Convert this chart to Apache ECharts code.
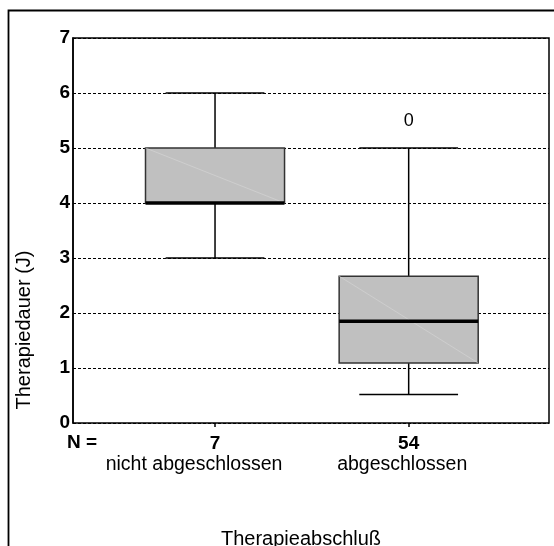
<!DOCTYPE html>
<html>
<head>
<meta charset="utf-8">
<script src="https://cdn.jsdelivr.net/npm/echarts@6/dist/echarts.min.js"></script>
<style>
html,body{margin:0;padding:0;background:#fff;}
#chart{width:554px;height:546px;}
</style>
</head>
<body>
<div id="chart"></div>
<script>
// ---- data ----
var categories = ['nicht abgeschlossen', 'abgeschlossen'];
var nValues = [7, 54];
// [lower whisker, Q1, median, Q3, upper whisker]
var boxStats = [
  [3, 4, 4, 5, 6],
  [0.52, 1.09, 1.85, 2.67, 5]
];
// [category index, value]
var outliers = [[1, 5.5]];
var outlierMarks = ['0'];
var yMin = 0, yMax = 7, yStep = 1;
var yTitle = 'Therapiedauer (J)';
var xTitle = 'Therapieabschluß';
var nLabel = 'N =';

var FONT = '"Liberation Sans", Arial, sans-serif';

var boxSeriesData = boxStats.map(function (s, i) { return [i].concat(s); });

var chart = echarts.init(document.getElementById('chart'), null, {renderer: 'canvas'});

var option = {
  animation: false,
  backgroundColor: '#fff',
  grid: [
    {left: 73, right: 5, top: 38, bottom: 123, show: true, borderColor: '#000', borderWidth: 1.5, backgroundColor: 'transparent'},
    {left: 118.2, right: 48.5, top: 38, bottom: 123}
  ],
  xAxis: [
    {gridIndex: 0, type: 'value', min: 0, max: 1, show: false},
    {
      gridIndex: 1, type: 'category', data: categories, boundaryGap: true,
      axisLine: {show: false},
      axisTick: {show: true, alignWithLabel: true, length: 4, lineStyle: {color: '#000', width: 1.5}},
      splitLine: {show: false},
      axisLabel: {
        margin: 10,
        interval: 0,
        formatter: function (v, i) {
          return '{n|' + nValues[i] + '}\n{c' + i + '|' + v + '}';
        },
        rich: {
          n: {fontFamily: FONT, fontSize: 19, fontWeight: 'bold', color: '#000', lineHeight: 21},
          c0: {fontFamily: FONT, fontSize: 19.5, color: '#000', lineHeight: 21, padding: [0, 42, 0, 0]},
          c1: {fontFamily: FONT, fontSize: 19.5, color: '#000', lineHeight: 21, padding: [0, 13, 0, 0]}
        }
      }
    }
  ],
  yAxis: [
    {
      gridIndex: 0, type: 'value', min: yMin, max: yMax, interval: yStep,
      axisLine: {show: true, lineStyle: {color: '#000', width: 1.5}},
      axisTick: {show: false},
      axisLabel: {margin: 3, fontFamily: FONT, fontSize: 19, fontWeight: 'bold', color: '#000'},
      splitLine: {show: true, lineStyle: {color: '#000', width: 1.2, type: [3, 2]}}
    },
    {gridIndex: 1, type: 'value', min: yMin, max: yMax, interval: yStep, show: false, splitLine: {show: false}}
  ],
  graphic: [
    {type: 'rect', shape: {x: 8.5, y: 10.5, width: 700, height: 700}, style: {fill: 'none', stroke: '#000', lineWidth: 1.8}, silent: true, z: 100},
    {type: 'text', x: 24, y: 330, rotation: Math.PI / 2, style: {text: yTitle, fontFamily: FONT, fontSize: 20, fill: '#000', align: 'center', verticalAlign: 'middle'}},
    {type: 'text', x: 67, y: 443, style: {text: nLabel, fontFamily: FONT, fontSize: 19, fontWeight: 'bold', fill: '#000', align: 'left', verticalAlign: 'middle'}},
    {type: 'text', x: 301, y: 539.5, style: {text: xTitle, fontFamily: FONT, fontSize: 20, fill: '#000', align: 'center', verticalAlign: 'middle'}}
  ],
  series: [
    {
      type: 'custom',
      xAxisIndex: 1, yAxisIndex: 1,
      data: boxSeriesData,
      encode: {x: 0, y: [1, 2, 3, 4, 5]},
      renderItem: function (params, api) {
        var idx = api.value(0);
        var lo = api.coord([idx, api.value(1)]);
        var q1 = api.coord([idx, api.value(2)]);
        var med = api.coord([idx, api.value(3)]);
        var q3 = api.coord([idx, api.value(4)]);
        var hi = api.coord([idx, api.value(5)]);
        var band = api.size([1, 0])[0];
        var bw = band * 0.718;
        var cw = band * 0.51;
        var cx = lo[0];
        var lineS = {stroke: '#000', lineWidth: 1.5};
        return {
          type: 'group',
          children: [
            {type: 'line', shape: {x1: cx, y1: q3[1], x2: cx, y2: hi[1]}, style: lineS},
            {type: 'line', shape: {x1: cx, y1: q1[1], x2: cx, y2: lo[1]}, style: lineS},
            {type: 'line', shape: {x1: cx - cw / 2, y1: hi[1], x2: cx + cw / 2, y2: hi[1]}, style: lineS},
            {type: 'line', shape: {x1: cx - cw / 2, y1: lo[1], x2: cx + cw / 2, y2: lo[1]}, style: lineS},
            {type: 'rect', shape: {x: cx - bw / 2, y: q3[1], width: bw, height: q1[1] - q3[1]}, style: {fill: '#c0c0c0', stroke: '#333', lineWidth: 1.5}},
            {type: 'line', shape: {x1: cx - bw / 2, y1: q3[1], x2: cx + bw / 2, y2: q1[1]}, style: {stroke: '#d6d6d6', lineWidth: 0.6}},
            {type: 'line', shape: {x1: cx - bw / 2, y1: med[1], x2: cx + bw / 2, y2: med[1]}, style: {stroke: '#000', lineWidth: 3.5}}
          ]
        };
      },
      z: 5
    },
    {
      type: 'custom',
      xAxisIndex: 1, yAxisIndex: 1,
      data: outliers,
      encode: {x: 0, y: 1},
      renderItem: function (params, api) {
        var p = api.coord([api.value(0), api.value(1)]);
        return {
          type: 'text',
          x: p[0], y: p[1] + 1,
          style: {text: outlierMarks[params.dataIndex], fontFamily: FONT, fontSize: 18, fill: '#000', align: 'center', verticalAlign: 'middle'}
        };
      },
      z: 6
    }
  ]
};
chart.setOption(option);
</script>
</body>
</html>
